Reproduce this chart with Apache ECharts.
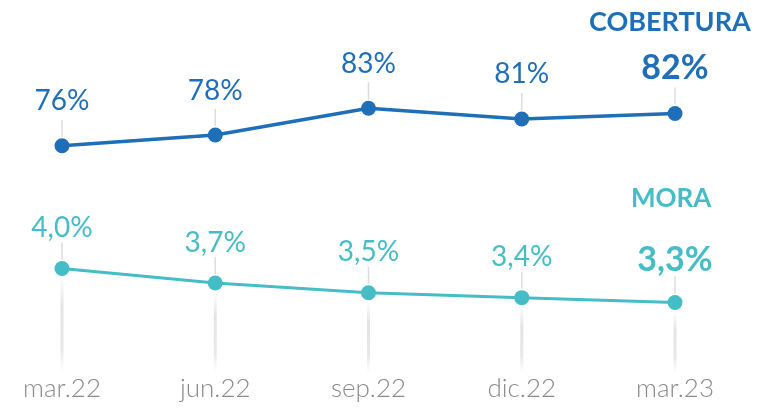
<!DOCTYPE html>
<html>
<head>
<meta charset="utf-8">
<script src="https://cdn.jsdelivr.net/npm/echarts@6/dist/echarts.min.js"></script>
<style>
  html, body { margin: 0; padding: 0; background: #fff; }
  #chart { width: 763px; height: 408px; }
</style>
</head>
<body>
<div id="chart"></div>
<script>
// data
var categories = ['mar.22', 'jun.22', 'sep.22', 'dic.22', 'mar.23'];
var cobertura = [76, 78, 83, 81, 82];
var mora = [4.0, 3.7, 3.5, 3.4, 3.3];

var colorCob = '#1f6fb8';
var colorMora = '#45bdc7';
var fontFam = 'Lato, "Open Sans", sans-serif';

function fmtMora(v) { return v.toFixed(1).replace('.', ',') + '%'; }

// last point gets the bigger bold label
function seriesData(arr, dist) {
    return arr.map(function (v, i) {
        var item = { value: v };
        if (i === arr.length - 1) {
            item.label = { fontSize: 34, fontWeight: 'bold', distance: dist };
        }
        return item;
    });
}

// thin gray connector lines + fading drop line under MORA points
function connectors(withDrop) {
    return function (params, api) {
        var p = api.coord([api.value(0), api.value(1)]);
        var bottom = api.coord([api.value(0), api.value(2)])[1];
        var children = [{
            type: 'line',
            shape: { x1: p[0], y1: p[1] - 9, x2: p[0], y2: p[1] - 26 },
            style: { stroke: '#dcdcdc', lineWidth: 1.5 }
        }];
        if (withDrop) {
            children.push({
                type: 'line',
                shape: { x1: p[0], y1: p[1] + 10, x2: p[0], y2: bottom + 12 },
                style: {
                    lineWidth: 3,
                    stroke: new echarts.graphic.LinearGradient(0, 0, 0, 1, [
                        { offset: 0, color: 'rgba(228,228,228,0)' },
                        { offset: 0.3, color: 'rgba(228,228,228,1)' },
                        { offset: 0.75, color: 'rgba(232,232,232,1)' },
                        { offset: 1, color: 'rgba(238,238,238,0)' }
                    ])
                }
            });
        }
        return { type: 'group', children: children };
    };
}

var cobMin = 36, cobMax = 92;
var moraMin = 2.12, moraMax = 8.28;

var chart = echarts.init(document.getElementById('chart'));
chart.setOption({
    animation: false,
    grid: { left: 62, right: 88, top: 60, bottom: 48 },
    graphic: [
        { type: 'text', left: 589, top: 9, style: { text: 'COBERTURA', fill: colorCob, font: 'bold 27px ' + fontFam } },
        { type: 'text', left: 631, top: 186, style: { text: 'MORA', fill: colorMora, font: 'bold 26px ' + fontFam } }
    ],
    xAxis: {
        type: 'category',
        data: categories,
        boundaryGap: false,
        axisLine: { show: false },
        axisTick: { show: false },
        axisLabel: { color: '#8a8a8a', fontSize: 26, fontFamily: fontFam, fontWeight: 300, margin: 16 }
    },
    yAxis: [
        { type: 'value', min: cobMin, max: cobMax, show: false },
        { type: 'value', min: moraMin, max: moraMax, show: false }
    ],
    series: [
        {
            type: 'custom',
            yAxisIndex: 0,
            z: 1,
            renderItem: connectors(false),
            data: cobertura.map(function (v, i) { return [i, v, cobMin]; })
        },
        {
            type: 'custom',
            yAxisIndex: 1,
            z: 1,
            renderItem: connectors(true),
            data: mora.map(function (v, i) { return [i, v, moraMin]; })
        },
        {
            name: 'COBERTURA',
            type: 'line',
            yAxisIndex: 0,
            z: 3,
            data: seriesData(cobertura, 21),
            symbol: 'circle',
            symbolSize: 15,
            lineStyle: { color: colorCob, width: 3.5 },
            itemStyle: { color: colorCob },
            label: {
                show: true, position: 'top', distance: 23,
                color: colorCob, fontSize: 28, fontFamily: fontFam,
                formatter: function (p) { return p.value + '%'; }
            }
        },
        {
            name: 'MORA',
            type: 'line',
            yAxisIndex: 1,
            z: 3,
            data: seriesData(mora, 18),
            symbol: 'circle',
            symbolSize: 15,
            lineStyle: { color: colorMora, width: 3 },
            itemStyle: { color: colorMora },
            label: {
                show: true, position: 'top', distance: 19,
                color: colorMora, fontSize: 28, fontFamily: fontFam,
                formatter: function (p) { return fmtMora(p.value); }
            }
        }
    ]
});
</script>
</body>
</html>
